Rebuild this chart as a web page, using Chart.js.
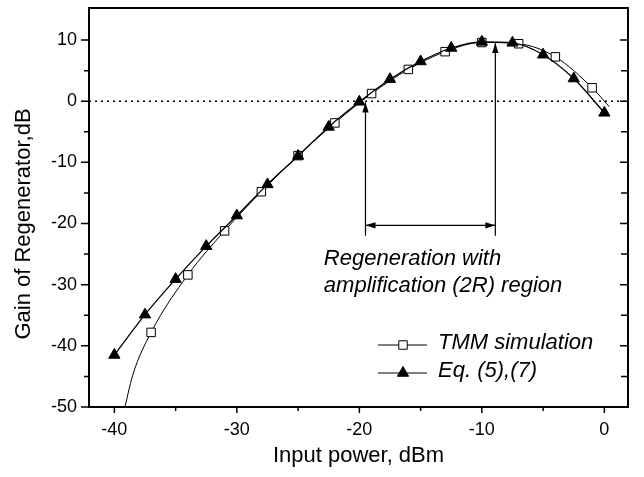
<!DOCTYPE html>
<html>
<head>
<meta charset="utf-8">
<script src="https://cdn.jsdelivr.net/npm/chart.js@4.4.1/dist/chart.umd.min.js"></script>
<style>
  html, body { margin: 0; padding: 0; background: #fff; }
  #wrap { width: 644px; height: 477px; }
</style>
</head>
<body>
<div id="wrap"><canvas id="gainChart" width="644" height="477"></canvas></div>
<script>
// Eq. (5),(7) - triangulos
const eqX = [-40, -37.5, -35, -32.5, -30, -27.5, -25, -22.5, -20, -17.5, -15, -12.5, -10, -7.5, -5, -2.5, 0];
const eqY = [-41.5, -34.9, -29.1, -23.7, -18.7, -13.6, -8.95, -4.2, -0.1, 3.6, 6.5, 8.7, 9.7, 9.55, 7.6, 3.7, -1.9];

// TMM simulation - cuadrados
const tmmX = [-37, -34, -31, -28, -25, -22, -19, -16, -13, -10, -7, -4, -1];
const tmmY = [-37.8, -28.4, -21.2, -14.8, -8.9, -3.55, 1.25, 5.2, 8.1, 9.6, 9.4, 7.25, 2.2];

// la curva TMM sigue mas alla de los marcadores
const tmmInicioX = [-39.25, -38.5];
const tmmInicioY = [-51, -44.8];
const tmmFinX = [0.4];
const tmmFinY = [-0.9];

const xTicks = [-40, -30, -20, -10, 0];
const xMinor = [-35, -25, -15, -5];
const yTicks = [-50, -40, -30, -20, -10, 0, 10];
const yMinor = [-45, -35, -25, -15, -5, 5];

const leyendas = ["TMM simulation", "Eq. (5),(7)"];
const textoRegion = ["Regeneration with", "amplification (2R) region"];
const tituloX = "Input power, dBm";
const tituloY = "Gain of Regenerator,dB";

// region 2R
const regionDesde = -19.5;
const regionHasta = -8.9;
const regionTopeIzq = -0.2;
const regionTopeDer = 9.5;
const regionFlechaY = -20.3;
const regionBase = -22;

const FUENTE = '"Liberation Sans", Arial, Helvetica, sans-serif';

function puntos(xs, ys) {
  return xs.map((x, i) => ({ x: x, y: ys[i] }));
}

function flecha(ctx, x1, y1, x2, y2) {
  const ang = Math.atan2(y2 - y1, x2 - x1);
  const largo = 10, ancho = 3.2;
  ctx.beginPath();
  ctx.moveTo(x2, y2);
  ctx.lineTo(x2 - largo * Math.cos(ang) + ancho * Math.sin(ang), y2 - largo * Math.sin(ang) - ancho * Math.cos(ang));
  ctx.lineTo(x2 - largo * Math.cos(ang) - ancho * Math.sin(ang), y2 - largo * Math.sin(ang) + ancho * Math.cos(ang));
  ctx.closePath();
  ctx.fill();
}

const decoraciones = {
  id: "decoraciones",
  beforeDatasetsDraw(chart) {
    const { ctx, chartArea: a, scales: { y } } = chart;
    const y0 = y.getPixelForValue(0);
    ctx.save();
    ctx.strokeStyle = "#000";
    ctx.lineWidth = 1.6;
    ctx.setLineDash([2, 4]);
    ctx.beginPath();
    ctx.moveTo(a.left, y0);
    ctx.lineTo(a.right, y0);
    ctx.stroke();
    ctx.restore();
  },
  afterDatasetsDraw(chart) {
    const { ctx, chartArea: a, scales: { x, y } } = chart;
    ctx.save();
    ctx.strokeStyle = "#000";
    ctx.fillStyle = "#000";

    // marco
    ctx.lineWidth = 2;
    ctx.strokeRect(a.left, a.top, a.right - a.left, a.bottom - a.top);

    // marcas de los ejes
    ctx.lineWidth = 1.5;
    ctx.beginPath();
    xTicks.forEach(v => { const px = x.getPixelForValue(v); ctx.moveTo(px, a.bottom); ctx.lineTo(px, a.bottom + 6); });
    xMinor.forEach(v => { const px = x.getPixelForValue(v); ctx.moveTo(px, a.bottom); ctx.lineTo(px, a.bottom + 4); });
    yTicks.forEach(v => {
      const py = y.getPixelForValue(v);
      ctx.moveTo(a.left, py); ctx.lineTo(a.left - 8, py);
      ctx.moveTo(a.right, py); ctx.lineTo(a.right - 8, py);
    });
    yMinor.forEach(v => {
      const py = y.getPixelForValue(v);
      ctx.moveTo(a.left, py); ctx.lineTo(a.left - 5, py);
      ctx.moveTo(a.right, py); ctx.lineTo(a.right - 7, py);
    });
    ctx.stroke();

    // flechas de la region 2R
    const xi = x.getPixelForValue(regionDesde);
    const xd = x.getPixelForValue(regionHasta);
    const yb = y.getPixelForValue(regionBase);
    const yf = y.getPixelForValue(regionFlechaY);
    ctx.lineWidth = 1.2;
    ctx.beginPath();
    ctx.moveTo(xi, yb); ctx.lineTo(xi, y.getPixelForValue(regionTopeIzq));
    ctx.moveTo(xd, yb); ctx.lineTo(xd, y.getPixelForValue(regionTopeDer));
    ctx.moveTo(xi, yf); ctx.lineTo(xd, yf);
    ctx.stroke();
    flecha(ctx, xi, yb, xi, y.getPixelForValue(regionTopeIzq));
    flecha(ctx, xd, yb, xd, y.getPixelForValue(regionTopeDer));
    flecha(ctx, xd, yf, xi, yf);
    flecha(ctx, xi, yf, xd, yf);

    // texto de la region
    ctx.font = "italic 22px " + FUENTE;
    ctx.textAlign = "left";
    ctx.textBaseline = "alphabetic";
    ctx.fillText(textoRegion[0], x.getPixelForValue(-22.9), y.getPixelForValue(-26.7));
    ctx.fillText(textoRegion[1], x.getPixelForValue(-22.9), y.getPixelForValue(-31.2));

    // leyenda
    const filas = [a.bottom - 62, a.bottom - 34];
    const lx1 = a.right - 250, lx2 = a.right - 201, lm = a.right - 225;
    [1, 0].forEach((dsIndex, fila) => {
      const ds = chart.data.datasets[dsIndex];
      const fy = filas[fila];
      ctx.lineWidth = 1;
      ctx.strokeStyle = "#000";
      ctx.beginPath();
      ctx.moveTo(lx1, fy); ctx.lineTo(lx2, fy);
      ctx.stroke();
      ctx.fillStyle = ds.pointBackgroundColor;
      ctx.strokeStyle = "#000";
      Chart.helpers.drawPoint(ctx, {
        pointStyle: ds.pointStyle, radius: ds.pointRadius, borderWidth: ds.pointBorderWidth, rotation: 0
      }, lm, fy);
      ctx.fillStyle = "#000";
      ctx.font = "italic 22px " + FUENTE;
      ctx.textBaseline = "middle";
      ctx.fillText(leyendas[fila], a.right - 190, fy - 2);
    });

    // titulos de los ejes
    ctx.fillStyle = "#000";
    ctx.font = "22px " + FUENTE;
    ctx.textAlign = "center";
    ctx.textBaseline = "middle";
    ctx.fillText(tituloX, (a.left + a.right) / 2, 456);
    ctx.translate(24, 224);
    ctx.rotate(-Math.PI / 2);
    ctx.fillText(tituloY, 0, 0);
    ctx.restore();
  }
};

function crearGrafico() {
  const ctx = document.getElementById("gainChart").getContext("2d");
  new Chart(ctx, {
    type: "scatter",
    data: {
      datasets: [
        {
          label: leyendas[1],
          data: puntos(eqX, eqY),
          showLine: true,
          borderColor: "#000",
          borderWidth: 1.3,
          cubicInterpolationMode: "monotone",
          pointStyle: "triangle",
          pointRadius: 6.5,
          pointBackgroundColor: "#000",
          pointBorderColor: "#000",
          pointBorderWidth: 1
        },
        {
          label: leyendas[0],
          data: puntos(tmmX, tmmY),
          showLine: false,
          pointStyle: "rect",
          pointRadius: 6,
          pointBackgroundColor: "#fff",
          pointBorderColor: "#000",
          pointBorderWidth: 1
        },
        {
          label: "TMM curve",
          data: puntos(tmmInicioX.concat(tmmX, tmmFinX), tmmInicioY.concat(tmmY, tmmFinY)),
          showLine: true,
          borderColor: "#000",
          borderWidth: 1,
          cubicInterpolationMode: "monotone",
          pointRadius: 0
        }
      ]
    },
    options: {
      responsive: false,
      animation: false,
      devicePixelRatio: 1,
      layout: { padding: { left: 0, right: 16, top: 8, bottom: 0 } },
      plugins: { legend: { display: false }, tooltip: { enabled: false } },
      scales: {
        x: {
          type: "linear",
          min: -42.07,
          max: 1.93,
          grid: { display: false, drawTicks: false },
          border: { display: false },
          afterBuildTicks: (s) => { s.ticks = xTicks.map(v => ({ value: v })); },
          afterFit: (s) => { s.height = 70; s.paddingLeft = 0; s.paddingRight = 0; },
          ticks: { color: "#000", padding: 12, maxRotation: 0, font: { family: FUENTE, size: 18 } }
        },
        y: {
          type: "linear",
          min: -50,
          max: 15.24,
          grid: { display: false, drawTicks: false },
          border: { display: false },
          afterBuildTicks: (s) => { s.ticks = yTicks.map(v => ({ value: v })); },
          afterFit: (s) => { s.width = 89; s.paddingTop = 0; s.paddingBottom = 0; },
          ticks: { color: "#000", padding: 12, font: { family: FUENTE, size: 18 } }
        }
      }
    },
    plugins: [decoraciones]
  });
}

document.addEventListener("DOMContentLoaded", crearGrafico);
</script>
</body>
</html>
